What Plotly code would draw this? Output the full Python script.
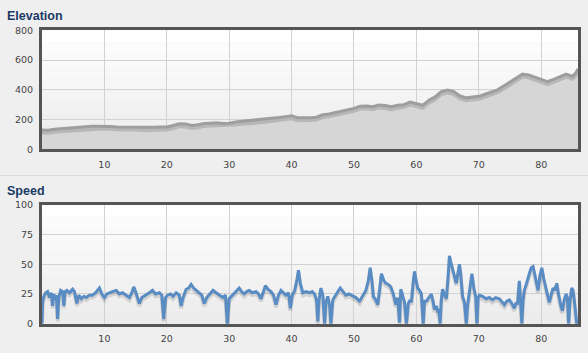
import plotly.graph_objects as go

# ---------------- data ----------------
elev_km = [0, 1, 2, 3, 4, 5, 6, 7, 8, 9, 10, 11, 12, 13, 14, 15, 16, 17, 18, 19,
           20, 21, 22, 23, 24, 25, 26, 27, 28, 29, 30, 31, 32, 33, 34, 35, 36, 37, 38, 39,
           40, 41, 42, 43, 44, 45, 46, 47, 48, 49, 50, 51, 52, 53, 54, 55, 56, 57, 58, 59,
           60, 61, 62, 63, 64, 65, 66, 67, 68, 69, 70, 71, 72, 73, 74, 75, 76, 77, 78, 79,
           80, 81, 82, 83, 84, 85, 85.5, 85.9]
elev_m = [130, 128, 135, 138, 142, 148, 150, 152, 155, 155, 156, 153, 151, 150, 152, 148, 146, 145, 148, 150,
          150, 160, 172, 170, 160, 165, 174, 176, 178, 174, 176, 184, 188, 190, 194, 198, 204, 208, 214, 220,
          225, 212, 210, 213, 216, 232, 238, 246, 255, 265, 275, 290, 292, 286, 298, 294, 286, 296, 300, 318,
          305, 296, 330, 352, 388, 398, 388, 358, 346, 350, 356, 370, 385, 400, 425, 450, 480, 505, 500, 485,
          470, 455, 470, 490, 505, 490, 510, 540]

speed_km = [0.0, 0.1, 0.3, 0.6, 0.9, 1.2, 1.5, 1.7, 1.9, 2.1, 2.3, 2.5, 2.7, 3.0, 3.3, 3.5, 3.7, 4.0, 4.4, 4.9,
            5.2, 5.6, 5.9, 6.3, 6.7, 7.1, 7.6, 8.1, 8.6, 9.2, 9.6, 10.0, 10.4, 10.8, 11.3, 11.9, 12.4, 12.9, 13.5, 14.0,
            14.4, 14.7, 15.0, 15.3, 15.6, 16.0, 16.7, 17.2, 17.7, 18.2, 18.8, 19.2, 19.5, 19.8, 20.1, 20.6, 21.0, 21.5, 22.0, 22.3,
            22.6, 23.1, 23.5, 23.9, 24.3, 24.7, 25.2, 25.6, 26.0, 26.4, 26.9, 27.4, 27.9, 28.4, 29.0, 29.4, 29.7, 30.0, 30.5, 31.0,
            31.6, 32.0, 32.4, 32.8, 33.2, 33.7, 34.3, 34.7, 35.1, 35.5, 35.8, 36.2, 36.7, 37.1, 37.5, 37.9, 38.3, 38.7, 39.1, 39.5,
            39.8, 40.1, 40.5, 40.9, 41.1, 41.4, 41.8, 42.3, 42.9, 43.3, 43.7, 44.0, 44.2, 44.4, 44.7, 45.0, 45.3, 45.5, 45.8, 46.1,
            46.3, 46.6, 46.9, 47.3, 47.8, 48.2, 48.7, 49.2, 49.8, 50.3, 50.9, 51.4, 51.9, 52.3, 52.6, 52.9, 53.1, 53.5, 53.8, 54.1,
            54.4, 54.8, 55.1, 55.5, 55.9, 56.3, 56.7, 57.0, 57.3, 57.5, 57.8, 58.1, 58.4, 58.7, 59.0, 59.2, 59.5, 59.7, 59.9, 60.2,
            60.5, 60.8, 61.1, 61.3, 61.6, 62.0, 62.4, 62.7, 62.9, 63.2, 63.4, 63.6, 63.8, 64.0, 64.2, 64.5, 64.8, 65.1, 65.3, 65.5,
            65.8, 66.1, 66.4, 66.6, 66.9, 67.1, 67.4, 67.7, 68.0, 68.2, 68.4, 68.7, 68.9, 69.2, 69.5, 69.7, 69.9, 70.1, 70.6, 71.2,
            71.7, 72.2, 72.7, 73.3, 73.7, 74.1, 74.5, 74.9, 75.3, 75.7, 76.0, 76.2, 76.5, 76.7, 76.9, 77.1, 77.3, 77.6, 77.8, 78.1,
            78.4, 78.7, 78.9, 79.2, 79.5, 79.8, 80.1, 80.4, 80.8, 81.1, 81.3, 81.6, 81.9, 82.2, 82.5, 82.8, 83.0, 83.2, 83.4, 83.7,
            84.0, 84.2, 84.4, 84.6, 84.9, 85.1, 85.3, 85.5, 85.7, 85.9]
speed_kmh = [0, 18, 23, 26, 27, 22, 26, 15, 25, 20, 24, 4, 22, 28, 27, 15, 27, 28, 26, 29,
             27, 17, 24, 21, 23, 22, 24, 24, 26, 30, 25, 22, 25, 26, 27, 28, 25, 26, 24, 22,
             26, 31, 27, 22, 17, 22, 24, 26, 28, 25, 26, 24, 4, 22, 24, 25, 23, 26, 24, 15,
             22, 29, 30, 33, 30, 28, 26, 24, 17, 22, 25, 28, 26, 24, 22, 24, 0, 21, 24, 27,
             30, 27, 25, 27, 28, 26, 27, 25, 21, 27, 32, 29, 27, 24, 16, 24, 28, 26, 24, 26,
             13, 24, 28, 38, 45, 34, 26, 27, 26, 27, 25, 20, 2, 20, 30, 24, 0, 18, 23, 15,
             0, 20, 23, 26, 30, 27, 24, 25, 23, 22, 19, 24, 28, 36, 47, 35, 23, 20, 16, 28,
             42, 36, 34, 33, 31, 25, 16, 22, 1, 29, 23, 18, 0, 17, 20, 18, 35, 44, 38, 30,
             28, 25, 0, 19, 19, 22, 25, 18, 12, 15, 11, 12, 0, 20, 29, 24, 21, 40, 57, 52,
             47, 40, 34, 40, 50, 42, 23, 18, 0, 15, 23, 34, 42, 30, 23, 0, 22, 24, 23, 21,
             22, 20, 22, 21, 18, 16, 19, 20, 17, 13, 18, 16, 36, 20, 0, 20, 28, 33, 36, 42,
             47, 48, 43, 34, 28, 40, 47, 38, 30, 24, 18, 24, 30, 28, 34, 24, 18, 14, 11, 20,
             25, 22, 0, 18, 30, 28, 20, 10, 0, 2]

x_ticks = [10, 20, 30, 40, 50, 60, 70, 80]
elev_ticks = [0, 200, 400, 600, 800]
speed_ticks = [0, 25, 50, 75, 100]
elev_range = [0, 800]
speed_range = [0, 100]

# ---------------- figure ----------------
W, H = 588, 353
def py(px):
    return 1 - px / H

xdom = [42 / W, 578 / W]
top_px, bot_px = (25, 148), (205, 328)
top_dom = [py(top_px[1]), py(top_px[0])]
bot_dom = [py(bot_px[1]), py(bot_px[0])]

# shadow offset (pixels) expressed in each axis' units
SH = 2.5
top_units_per_px = (elev_range[1] - elev_range[0]) / (top_px[1] - top_px[0])
bot_units_per_px = (speed_range[1] - speed_range[0]) / (bot_px[1] - bot_px[0])
elev_shadow_range = [r + SH * top_units_per_px for r in elev_range]
speed_shadow_range = [r + SH * bot_units_per_px for r in speed_range]

fig = go.Figure()
# elevation fill (base subplot x/y)
fig.add_trace(go.Scatter(x=elev_km, y=elev_m, mode="lines", fill="tozeroy",
                         fillcolor="#d6d6d6", line=dict(color="rgba(0,0,0,0)", width=0),
                         xaxis="x", yaxis="y", hoverinfo="skip", showlegend=False))
# base subplot x2/y2 (speed axes); invisible copy so that the subplot exists
fig.add_trace(go.Scatter(x=speed_km, y=speed_kmh, mode="lines",
                         line=dict(color="rgba(0,0,0,0)", width=0),
                         xaxis="x2", yaxis="y2", hoverinfo="skip", showlegend=False))
# elevation shadow
fig.add_trace(go.Scatter(x=elev_km, y=elev_m, mode="lines",
                         line=dict(color="rgba(0,0,0,0.14)", width=4),
                         xaxis="x", yaxis="y3", hoverinfo="skip", showlegend=False))
# speed shadow
fig.add_trace(go.Scatter(x=speed_km, y=speed_kmh, mode="lines",
                         line=dict(color="rgba(0,0,0,0.13)", width=4),
                         xaxis="x2", yaxis="y4", hoverinfo="skip", showlegend=False))
# elevation line
fig.add_trace(go.Scatter(x=elev_km, y=elev_m, mode="lines",
                         line=dict(color="#9e9e9e", width=3),
                         xaxis="x", yaxis="y5", hoverinfo="skip", showlegend=False))
# speed line
fig.add_trace(go.Scatter(x=speed_km, y=speed_kmh, mode="lines",
                         line=dict(color="#5a8cc4", width=3),
                         xaxis="x2", yaxis="y6", hoverinfo="skip", showlegend=False))

tickfont = dict(family="DejaVu Sans", size=9.5, color="#444444")
common_x = dict(range=[0, 85.9], tickvals=x_ticks, showgrid=True, gridcolor="#d2d2d2",
                gridwidth=1, zeroline=False, showline=True, mirror=True, linecolor="#555555",
                linewidth=3, ticks="outside", ticklen=4, tickcolor="rgba(0,0,0,0)",
                tickfont=tickfont, fixedrange=True)
common_y = dict(showgrid=True, gridcolor="#d2d2d2", gridwidth=1, zeroline=False,
                showline=True, mirror=True, linecolor="#555555", linewidth=3,
                ticks="outside", ticklen=4, tickcolor="rgba(0,0,0,0)",
                tickfont=tickfont, fixedrange=True)
hidden = dict(visible=False, showgrid=False, zeroline=False, fixedrange=True)

# gradient backgrounds (white at top to light grey at bottom)
band_colors = ["#ffffff", "#fcfcfc", "#fafafa", "#f8f8f8", "#f6f6f6",
               "#f4f4f4", "#f2f2f2", "#f0f0f0", "#eeeeee", "#ececec"]
shapes = []
n = len(band_colors)
for ax in ["", "2"]:
    for i, c in enumerate(band_colors):
        shapes.append(dict(type="rect", xref="x%s domain" % ax, yref="y%s domain" % ax,
                           x0=0, x1=1, y0=1 - (i + 1) / n, y1=1 - i / n,
                           fillcolor=c, line=dict(width=0), layer="below"))
# separator line between panels
shapes.append(dict(type="line", xref="paper", yref="paper", x0=0, x1=1,
                   y0=py(175), y1=py(175), line=dict(color="#d9d9d9", width=1)))

title_font = dict(family="Liberation Sans", size=12.5, color="#1b3a66")
annotations = [
    dict(text="<b>Elevation</b>", xref="paper", yref="paper", x=5 / W, y=py(10),
         xanchor="left", yanchor="middle", showarrow=False, font=title_font),
    dict(text="<b>Speed</b>", xref="paper", yref="paper", x=5 / W, y=py(191),
         xanchor="left", yanchor="middle", showarrow=False, font=title_font),
]

fig.update_layout(
    width=W, height=H, margin=dict(l=0, r=0, t=0, b=0),
    paper_bgcolor="#efefef", plot_bgcolor="rgba(0,0,0,0)",
    xaxis=dict(domain=xdom, anchor="y", **common_x),
    yaxis=dict(domain=top_dom, anchor="x", range=elev_range, tickvals=elev_ticks, **common_y),
    xaxis2=dict(domain=xdom, anchor="y2", **common_x),
    yaxis2=dict(domain=bot_dom, anchor="x2", range=speed_range, tickvals=speed_ticks, **common_y),
    yaxis3=dict(overlaying="y", anchor="x", range=elev_shadow_range, **hidden),
    yaxis4=dict(overlaying="y2", anchor="x2", range=speed_shadow_range, **hidden),
    yaxis5=dict(overlaying="y", anchor="x", range=elev_range, **hidden),
    yaxis6=dict(overlaying="y2", anchor="x2", range=speed_range, **hidden),
    shapes=shapes, annotations=annotations, showlegend=False,
)

fig.write_html("out.html")
